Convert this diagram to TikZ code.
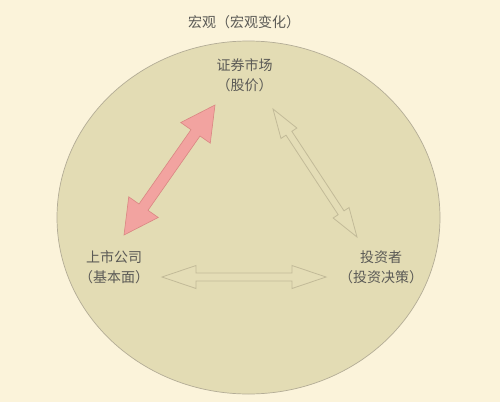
\documentclass[tikz,border=0pt]{standalone}
\usepackage{fontspec}
\setmainfont{Noto Sans CJK SC}
\newfontfamily\hwfont[RawFeature=+halt]{Noto Sans CJK SC}
\usetikzlibrary{calc}
\definecolor{bgcol}{HTML}{FBF3DA}
\definecolor{ellfill}{HTML}{E3DCB4}
\definecolor{elldraw}{HTML}{B3AC96}
\definecolor{txtcol}{HTML}{5B5A56}
\definecolor{redfill}{HTML}{F2A3A0}
\definecolor{reddraw}{HTML}{D98682}
\definecolor{hollowfill}{HTML}{E4DDB6}
\definecolor{hollowdraw}{HTML}{C2BA98}
\newcommand\fatdblarrow[6]{%
  \coordinate (h1) at ($(#1)!#5!(#2)$);
  \coordinate (h2) at ($(#2)!#5!(#1)$);
  \path[#6] (#1) -- ($(h1)!#4!90:(#2)$) -- ($(h1)!#3!90:(#2)$)
    -- ($(h2)!#3!-90:(#1)$) -- ($(h2)!#4!-90:(#1)$) -- (#2)
    -- ($(h2)!#4!90:(#1)$) -- ($(h2)!#3!90:(#1)$)
    -- ($(h1)!#3!-90:(#2)$) -- ($(h1)!#4!-90:(#2)$) -- cycle;}
\tikzset{
  lbl/.style={text=txtcol, font=\hwfont\fontsize{14}{20}\selectfont, align=center, inner sep=0pt},
  redarrow/.style={fill=redfill, draw=reddraw, line width=0.6pt, line join=miter},
  hollowarrow/.style={fill=hollowfill, draw=hollowdraw, line width=0.8pt, line join=miter}
}
\begin{document}
\begin{tikzpicture}[x=1pt, y=-1pt]
\useasboundingbox (0,0) rectangle (500,402);
\fill[bgcol] (0,0) rectangle (500,402);
\draw[fill=ellfill, draw=elldraw, line width=0.7pt] (248.5,217.5) ellipse [x radius=191.5pt, y radius=176.5pt];
\node[text=txtcol, font=\fontsize{14}{18}\selectfont, inner sep=0pt] (title) at (244,22) {宏观（宏观变化）};
\node[lbl] (market) at (244.5,75.5) {证券市场\\（股价）};
\node[lbl] (company) at (114,267.5) {上市公司\\（基本面）};
\node[lbl] (investor) at (381,267.5) {投资者\\（投资决策）};
\coordinate (rA) at (215,105);
\coordinate (rB) at (124,235);
\coordinate (tA) at (273,109);
\coordinate (tB) at (357,237);
\coordinate (hA) at (162,277);
\coordinate (hB) at (326,277);
\fatdblarrow{rA}{rB}{5.5pt}{18pt}{34pt}{redarrow}
\fatdblarrow{tA}{tB}{3.5pt}{9.5pt}{29pt}{hollowarrow}
\fatdblarrow{hA}{hB}{4pt}{11.5pt}{34pt}{hollowarrow}
\end{tikzpicture}
\end{document}
